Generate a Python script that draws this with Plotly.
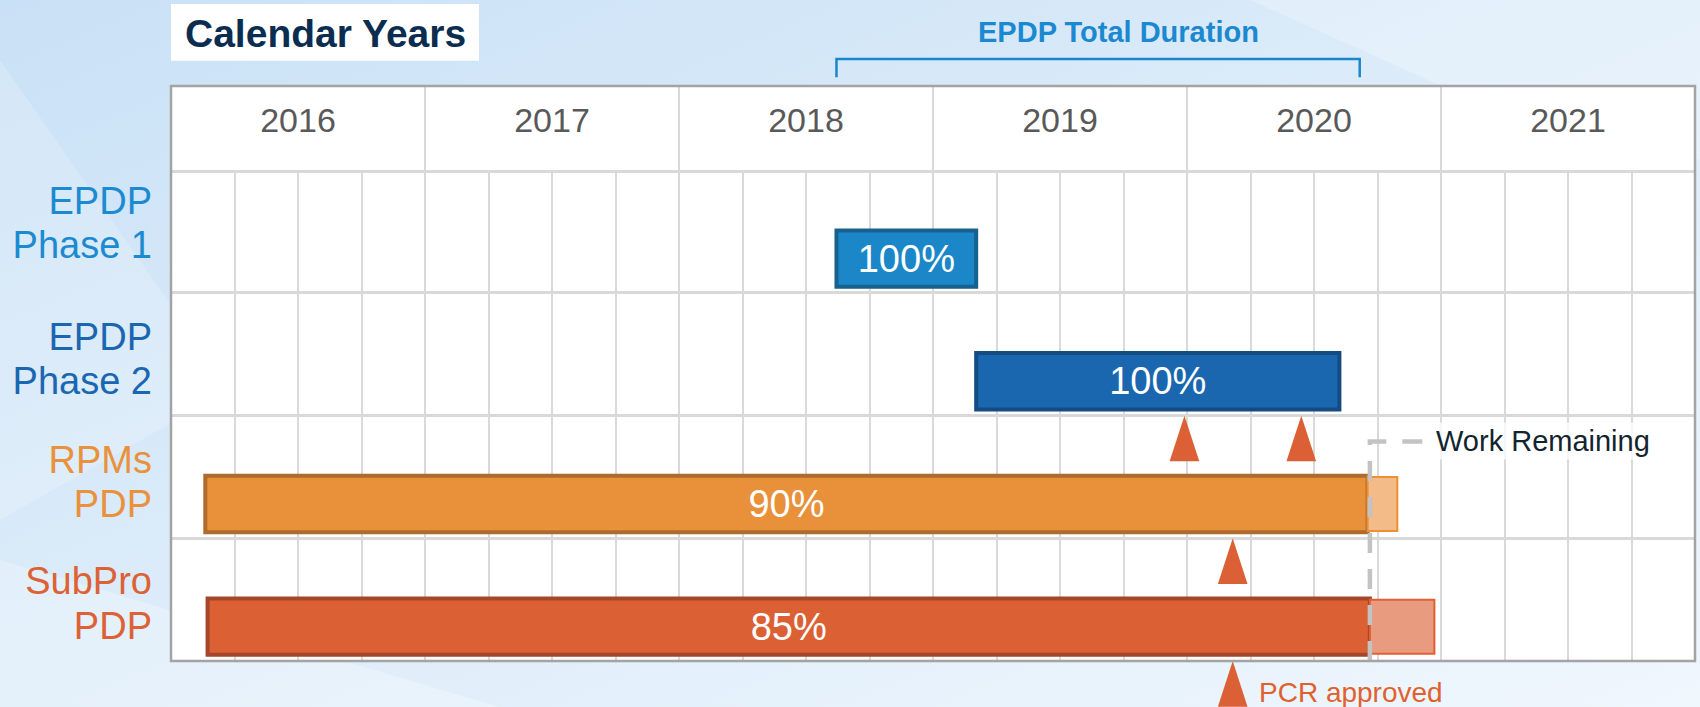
import base64
import plotly.graph_objects as go

# ---------------- data ----------------
years = [2016, 2017, 2018, 2019, 2020, 2021]
tasks = ["EPDP Phase 1", "EPDP Phase 2", "RPMs PDP", "SubPro PDP"]
task_labels = [["EPDP", "Phase 1"], ["EPDP", "Phase 2"], ["RPMs", "PDP"], ["SubPro", "PDP"]]
task_start = [2018.62, 2019.17, 2016.135, 2016.144]
task_done_end = [2019.17, 2020.60, 2020.711, 2020.72]
task_pct = ["100%", "100%", "90%", "85%"]
remaining_tasks = ["RPMs PDP", "SubPro PDP"]
remaining_end = [2020.828, 2020.974]
milestone_x = [2019.99, 2020.45, 2020.18, 2020.18]
milestone_row = [2, 2, 3, 4]  # marker tip sits on the top edge of this row (4 = below last row)
epdp_total = [2018.62, 2020.68]
cutoff = 2020.72

# ---------------- style ----------------
label_colors = ["#1c8ad0", "#1a66b0", "#e9913c", "#dc6235"]
label_nudge = [-0.06, 0.05, 0.05, 0.04]
bar_fill = ["#1b87c8", "#1a67b0", "#e8903a", "#db6034"]
bar_edge = ["#17618f", "#124c82", "#ae6b2d", "#a4462a"]
rem_fill = ["#f2bb88", "#e99b80"]
rem_edge = ["#ef8f35", "#e05f33"]
grid = "#d9d9d9"
FONT = "Liberation Sans, Arial, Helvetica, sans-serif"

W, H = 1700, 707
ML, MR, MT, MB = 171, 5, 86, 46
PW = W - ML - MR
PH = H - MT - MB
header_bottom_px = 170.3
split = (H - MB - header_bottom_px) / PH


def py(px):  # page pixel y -> paper y
    return (H - MB - px) / PH


def px_x(px):
    return (px - ML) / PW


fig = go.Figure()

row_of = {t: i for i, t in enumerate(tasks)}

# completed work bars
fig.add_trace(go.Bar(
    y=[row_of[t] for t in tasks],
    base=task_start,
    x=[e - s for s, e in zip(task_start, task_done_end)],
    orientation="h", width=0.46, offset=-0.01,
    marker=dict(color=bar_fill, line=dict(color=bar_edge, width=4)),
    text=task_pct, textposition="inside", insidetextanchor="middle",
    textangle=0, textfont=dict(color="white", size=38, family=FONT),
    hoverinfo="skip", showlegend=False,
))

# remaining work bars
rem_base = [task_done_end[row_of[t]] for t in remaining_tasks]
fig.add_trace(go.Bar(
    y=[row_of[t] for t in remaining_tasks],
    base=rem_base,
    x=[e - b for b, e in zip(rem_base, remaining_end)],
    orientation="h", width=0.44, offset=0.0,
    marker=dict(color=rem_fill, line=dict(color=rem_edge, width=2)),
    hoverinfo="skip", showlegend=False,
))

# work-remaining cutoff line
fig.add_trace(go.Scatter(
    x=[cutoff, cutoff, cutoff + 0.23], y=[3.5, 1.71, 1.71],
    mode="lines", line=dict(color="#c3c3c3", width=4.5, dash="20px,16px"),
    cliponaxis=False, hoverinfo="skip", showlegend=False,
))

# milestones
fig.add_trace(go.Scatter(
    x=milestone_x, y=[r - 0.5 for r in milestone_row],
    mode="markers", marker=dict(symbol="arrow", size=48, color="#dc6035",
                                line=dict(width=0)),
    cliponaxis=False, hoverinfo="skip", showlegend=False,
))

# year labels in header
fig.add_trace(go.Scatter(
    x=[y + 0.5 for y in years], y=[0.56] * len(years), text=[str(y) for y in years],
    mode="text", textfont=dict(size=34, color="#595959", family=FONT),
    xaxis="x2", yaxis="y2", hoverinfo="skip", showlegend=False,
))

ticktext = [
    "<br>".join(f'<span style="color:{c};font-size:38px">{part}</span>' for part in parts)
    for parts, c in zip(task_labels, label_colors)
]

# background svg (soft blue gradient, white chart area)
svg = f'''<svg xmlns="http://www.w3.org/2000/svg" width="{W}" height="{H}" viewBox="0 0 {W} {H}">
<defs><linearGradient id="g" x1="0" y1="0" x2="1" y2="1">
<stop offset="0" stop-color="#c9e1f6"/><stop offset="0.45" stop-color="#dbebf9"/>
<stop offset="1" stop-color="#f0f7fd"/></linearGradient></defs>
<rect width="{W}" height="{H}" fill="url(#g)"/>
<polygon points="0,60 230,390 0,520" fill="#ffffff" fill-opacity="0.18"/>
<polygon points="1250,0 1700,0 1700,160 1450,90" fill="#ffffff" fill-opacity="0.25"/>
<polygon points="0,560 500,707 0,707" fill="#ffffff" fill-opacity="0.25"/>
<rect x="{ML}" y="{MT}" width="{PW}" height="{PH}" fill="#ffffff"/>
</svg>'''
bg_uri = "data:image/svg+xml;base64," + base64.b64encode(svg.encode()).decode()

fig.update_layout(
    width=W, height=H, autosize=False,
    margin=dict(l=ML, r=MR, t=MT, b=MB, pad=0),
    paper_bgcolor="#dcecf9", plot_bgcolor="white",
    font=dict(family=FONT),
    barmode="overlay",
    images=[dict(source=bg_uri, xref="paper", yref="paper",
                  x=-ML / PW, y=1 + MT / PH,
                  sizex=W / PW, sizey=H / PH,
                  sizing="stretch", layer="below", xanchor="left", yanchor="top")],
    xaxis=dict(domain=[0, 1], anchor="y", range=[2016, 2022], tick0=2016, dtick=0.25,
               showgrid=True, gridcolor=grid, gridwidth=2, showticklabels=False,
               zeroline=False, showline=False, ticks=""),
    yaxis=dict(domain=[0, split], range=[3.5, -0.5],
               tickvals=[i + n for i, n in zip(range(len(tasks)), label_nudge)],
               ticktext=ticktext, tickfont=dict(size=34, family=FONT),
               showgrid=False, zeroline=False, showline=False, ticks="",
               ticklabelstandoff=18, automargin=False,
               minor=dict(tick0=0.5, dtick=1, showgrid=True, gridcolor=grid, gridwidth=2.5)),
    xaxis2=dict(domain=[0, 1], anchor="y2", matches="x", tick0=2016, dtick=1,
                showgrid=True, gridcolor=grid, gridwidth=2, showticklabels=False,
                zeroline=False, showline=True, linecolor=grid, linewidth=2.5, ticks=""),
    yaxis2=dict(domain=[split, 1], range=[0, 1], showticklabels=False, showgrid=False,
                zeroline=False, ticks=""),
    shapes=[
        # outer border
        dict(type="rect", xref="paper", yref="paper", x0=0, x1=1, y0=0, y1=1,
             line=dict(color="#a3a3a3", width=2.5), layer="above"),
        # "Calendar Years" white box
        dict(type="rect", xref="paper", yref="paper", x0=0, x1=px_x(479),
             y0=py(60.7), y1=py(4), fillcolor="white", line=dict(width=0), layer="below"),
        # EPDP total duration bracket
        dict(type="path", xref="x", yref="paper",
             path=(f"M{epdp_total[0]},{py(77.3)} L{epdp_total[0]},{py(59)} "
                   f"L{epdp_total[1]},{py(59)} L{epdp_total[1]},{py(77.3)}"),
             line=dict(color="#1a86cc", width=2.5)),
    ],
    annotations=[
        dict(text="<b>Calendar Years</b>", xref="paper", yref="paper",
             x=px_x(325), y=py(33), xanchor="center", yanchor="middle", showarrow=False,
             font=dict(size=39, color="#0b2d50", family=FONT)),
        dict(text="<b>EPDP Total Duration</b>", xref="x", yref="paper",
             x=sum(epdp_total) / 2, xshift=20, y=py(32), xanchor="center",
             yanchor="middle", showarrow=False,
             font=dict(size=29, color="#1b88d0", family=FONT)),
        dict(text="Work Remaining", xref="x", yref="y", x=cutoff + 0.25, y=1.71,
             xanchor="left", yanchor="middle", showarrow=False,
             bgcolor="rgba(255,255,255,0.75)", borderpad=2,
             font=dict(size=29, color="#12242e", family=FONT)),
        dict(text="PCR approved", xref="x", yref="y", x=milestone_x[3],
             y=milestone_row[3] - 0.5, xshift=24, yshift=-31, xanchor="left",
             yanchor="middle", showarrow=False,
             font=dict(size=28, color="#e0612f", family=FONT)),
    ],
)

fig.write_html(
    "out.html",
    config={"displayModeBar": False},
    post_script="document.body.style.margin='0';document.body.style.overflow='hidden';",
)
